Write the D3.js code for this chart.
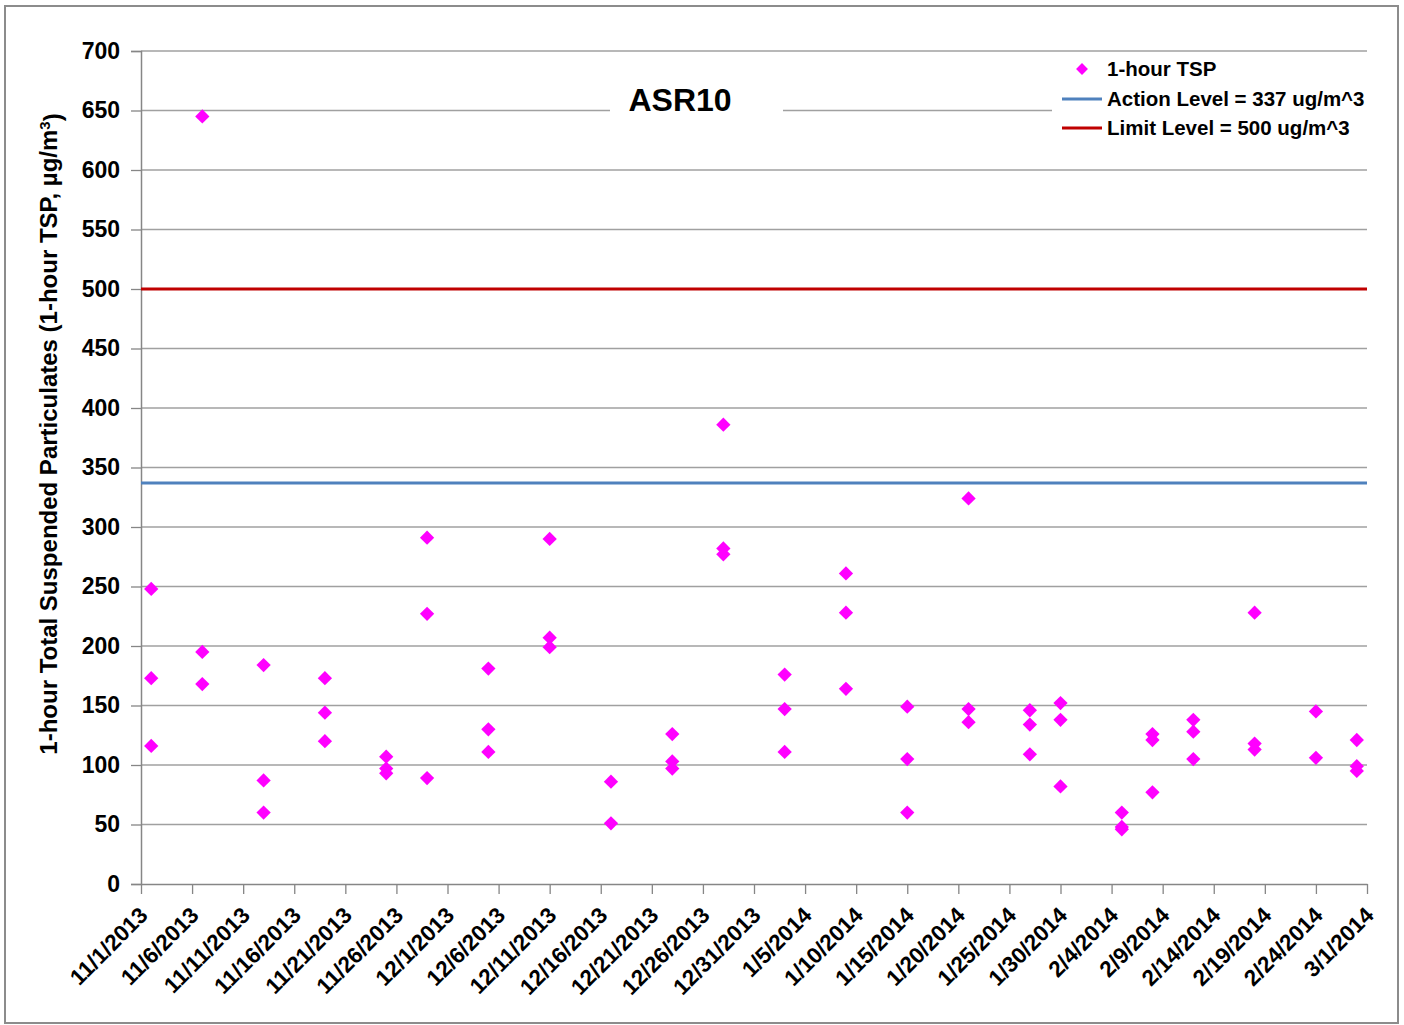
<!DOCTYPE html>
<html>
<head>
<meta charset="utf-8">
<script src="https://cdn.jsdelivr.net/npm/d3@7"></script>
<style>
  body { margin: 0; background: #fff; }
  text { font-family: "Liberation Sans", Arial, sans-serif; font-weight: bold; fill: #000; }
</style>
</head>
<body>
<div id="chart"></div>
<script>
// sample days and the three 1-hour TSP readings taken on each (null = no reading)
var sampleDates = ["2013-11-02", "2013-11-07", "2013-11-13", "2013-11-19", "2013-11-25", "2013-11-29",
    "2013-12-05", "2013-12-11", "2013-12-17", "2013-12-23", "2013-12-28", "2014-01-03",
    "2014-01-09", "2014-01-15", "2014-01-21", "2014-01-27", "2014-01-30", "2014-02-05",
    "2014-02-08", "2014-02-12", "2014-02-18", "2014-02-24", "2014-02-28"];
var reading1 = [248, 645, 184, 173, 107, 291, 181, 290, 86, 126, 386, 176, 261, 149, 324, 146, 152, 60, 126, 138, 228, 145, 121];
var reading2 = [173, 195, 87, 144, 97, 227, 130, 207, 51, 103, 282, 147, 228, 105, 147, 134, 138, 48, 121, 128, 118, 106, 99];
var reading3 = [116, 168, 60, 120, 93, 89, 111, 199, null, 97, 277, 111, 164, 60, 136, 109, 82, 46, 77, 105, 113, null, 95];

var actionLevel = 337;
var limitLevel = 500;
var yTicks = [0, 50, 100, 150, 200, 250, 300, 350, 400, 450, 500, 550, 600, 650, 700];
var xStart = "2013-11-01", xEnd = "2014-03-01";

var width = 1404, height = 1025;
var margin = {left: 141, right: 37, top: 51, bottom: 141};

var parse = d3.timeParse("%Y-%m-%d");
var fmt = d3.timeFormat("%-m/%-d/%Y");

var points = [];
sampleDates.forEach(function(d, i) {
    [reading1[i], reading2[i], reading3[i]].forEach(function(v) {
        if (v != null) points.push({date: parse(d), value: v});
    });
});

var x = d3.scaleTime()
    .domain([parse(xStart), parse(xEnd)])
    .range([margin.left, width - margin.right]);

var y = d3.scaleLinear()
    .domain([0, 700])
    .range([height - margin.bottom, margin.top]);

// a tick every 5 days
var xTicks = d3.timeDay.range(parse(xStart), d3.timeDay.offset(parse(xEnd), 1), 1)
    .filter(function(d, i) { return i % 5 == 0; });

var svg = d3.select("#chart").append("svg")
    .attr("width", width)
    .attr("height", height);

// outer frame
svg.append("rect")
    .attr("x", 5).attr("y", 6)
    .attr("width", 1393).attr("height", 1017)
    .attr("fill", "#fff")
    .attr("stroke", "#8c8c8c")
    .attr("stroke-width", 2);

// gridlines
svg.append("g")
    .selectAll("line")
    .data(yTicks.filter(function(d) { return d > 0; }))
    .enter().append("line")
    .attr("x1", margin.left).attr("x2", width - margin.right)
    .attr("y1", function(d) { return y(d); })
    .attr("y2", function(d) { return y(d); })
    .attr("stroke", "#a0a0a0")
    .attr("stroke-width", 1.3);

// y axis
var yAxis = svg.append("g")
    .attr("transform", "translate(" + margin.left + ",0)")
    .call(d3.axisLeft(y).tickValues(yTicks).tickSize(10).tickPadding(11));
yAxis.select(".domain").attr("stroke", "#868686").attr("stroke-width", 1.5);
yAxis.selectAll(".tick line").attr("stroke", "#868686").attr("stroke-width", 1.3);
yAxis.selectAll(".tick text")
    .style("font-family", "'Liberation Sans', Arial, sans-serif")
    .style("font-weight", "bold")
    .style("font-size", "23px")
    .attr("fill", "#000");

// x axis
var xAxis = svg.append("g")
    .attr("transform", "translate(0," + y(0) + ")")
    .call(d3.axisBottom(x).tickValues(xTicks).tickFormat(fmt).tickSize(10).tickSizeOuter(0));
xAxis.select(".domain").attr("stroke", "#868686").attr("stroke-width", 1.5);
xAxis.selectAll(".tick line").attr("stroke", "#868686").attr("stroke-width", 1.3);
xAxis.selectAll(".tick text")
    .style("font-family", "'Liberation Sans', Arial, sans-serif")
    .style("font-weight", "bold")
    .style("font-size", "22.5px")
    .attr("fill", "#000")
    .attr("text-anchor", "end")
    .attr("y", 0)
    .attr("dy", "0.35em")
    .attr("transform", "translate(2,27) rotate(-45)");

// action / limit levels
svg.append("line")
    .attr("x1", margin.left).attr("x2", width - margin.right)
    .attr("y1", y(actionLevel)).attr("y2", y(actionLevel))
    .attr("stroke", "#4f81bd").attr("stroke-width", 3);
svg.append("line")
    .attr("x1", margin.left).attr("x2", width - margin.right)
    .attr("y1", y(limitLevel)).attr("y2", y(limitLevel))
    .attr("stroke", "#c00000").attr("stroke-width", 3);

// points
var diamond = d3.symbol().type(d3.symbolDiamond2).size(130);
svg.append("g")
    .selectAll("path")
    .data(points)
    .enter().append("path")
    .attr("d", diamond)
    .attr("transform", function(d) { return "translate(" + x(d.date) + "," + y(d.value) + ")"; })
    .attr("fill", "#ff00ff");

// title
svg.append("rect")
    .attr("x", 610).attr("y", 80).attr("width", 173).attr("height", 40)
    .attr("fill", "#fff");
svg.append("text")
    .attr("x", 680).attr("y", 111)
    .attr("text-anchor", "middle")
    .style("font-size", "32px")
    .text("ASR10");

// y axis title
var yTitle = svg.append("text")
    .attr("transform", "translate(57,434) rotate(-90)")
    .attr("text-anchor", "middle")
    .style("font-size", "24px");
yTitle.append("tspan").text("1-hour Total Suspended Particulates (1-hour TSP, µg/m");
yTitle.append("tspan").attr("dy", "-0.45em").style("font-size", "15px").text("3");
yTitle.append("tspan").attr("dy", "0.45em").text(")");

// legend
var legend = svg.append("g");
legend.append("rect")
    .attr("x", 1052).attr("y", 54).attr("width", 315).attr("height", 90)
    .attr("fill", "#fff");
legend.append("path")
    .attr("d", d3.symbol().type(d3.symbolDiamond2).size(90))
    .attr("transform", "translate(1082,69)")
    .attr("fill", "#ff00ff");
legend.append("line")
    .attr("x1", 1062).attr("x2", 1102).attr("y1", 99).attr("y2", 99)
    .attr("stroke", "#4f81bd").attr("stroke-width", 3);
legend.append("line")
    .attr("x1", 1062).attr("x2", 1102).attr("y1", 128).attr("y2", 128)
    .attr("stroke", "#c00000").attr("stroke-width", 3);
var legendLabels = ["1-hour TSP", "Action Level = " + actionLevel + " ug/m^3", "Limit Level = " + limitLevel + " ug/m^3"];
legend.selectAll("text.lbl")
    .data(legendLabels)
    .enter().append("text")
    .attr("class", "lbl")
    .attr("x", 1107)
    .attr("y", function(d, i) { return 69 + i * 29.5; })
    .attr("dy", "0.35em")
    .style("font-size", "20.5px")
    .text(function(d) { return d; });
</script>
</body>
</html>
